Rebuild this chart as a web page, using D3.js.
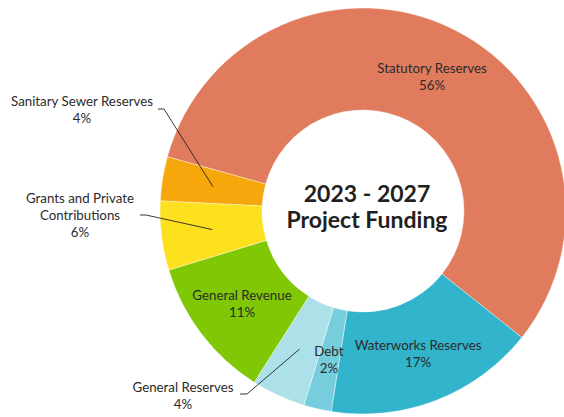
<!DOCTYPE html>
<html>
<head>
<meta charset="utf-8">
<script src="https://cdn.jsdelivr.net/npm/d3@7"></script>
<style>
  html, body { margin: 0; padding: 0; background: #fff; }
  svg { display: block; }
  text { font-family: Lato, "Open Sans", sans-serif; fill: #2b2b2b; }
</style>
</head>
<body>
<svg id="chart" width="564" height="417"></svg>
<script>
// ---- data ----
const categories = ["Statutory Reserves", "Waterworks Reserves", "Debt", "General Reserves",
                    "General Revenue", "Grants and Private Contributions", "Sanitary Sewer Reserves"];
const labelLines = [["Statutory Reserves"], ["Waterworks Reserves"], ["Debt"], ["General Reserves"],
                    ["General Revenue"], ["Grants and Private", "Contributions"], ["Sanitary Sewer Reserves"]];
const values = [56.4, 16.8, 2.2, 4.3, 11.3, 5.5, 3.5];
const colors = ["#E07B5D", "#32B4CC", "#76CEDD", "#ADE1EA", "#80C806", "#FDE01E", "#F6A70B"];
const titleLines = ["2023 - 2027", "Project Funding"];

// ---- layout ----
const cx = 363, cy = 211, rOuter = 203, rInner = 101, rLabel = 152;
const startDeg = -74.5;
// outside labels: elbow point and text anchor (center x, first baseline y)
const outside = {
  3: { elbow: [247, 394], end: [240, 394], text: [183, 392] },
  5: { elbow: [146, 215], end: [140, 215], text: [80, 203] },
  6: { elbow: [164, 109], end: [158, 109], text: [82, 106] }
};

const svg = d3.select("#chart");
const g = svg.append("g").attr("transform", `translate(${cx},${cy})`);

const pie = d3.pie().sort(null).value(d => d)
  .startAngle(startDeg * Math.PI / 180)
  .endAngle((startDeg + 360) * Math.PI / 180);
const arcs = pie(values);
const arc = d3.arc().innerRadius(rInner).outerRadius(rOuter);
const labelArc = d3.arc().innerRadius(rLabel).outerRadius(rLabel);

g.selectAll("path.slice").data(arcs).join("path")
  .attr("class", "slice")
  .attr("d", arc)
  .attr("fill", (d, i) => colors[i])
  .attr("stroke", "#fff").attr("stroke-width", 0.4);

const fs = 13.3, lh = 17;
arcs.forEach((d, i) => {
  const c = labelArc.centroid(d);
  const lines = labelLines[i].concat([Math.round(values[i]) + "%"]);
  if (outside[i]) {
    const o = outside[i];
    svg.append("polyline")
      .attr("points", [[o.end[0], o.end[1]], [o.elbow[0], o.elbow[1]], [cx + c[0], cy + c[1]]].join(" "))
      .attr("fill", "none").attr("stroke", "#222").attr("stroke-width", 0.9);
    const t = svg.append("text").attr("text-anchor", "middle").attr("font-size", fs);
    lines.forEach((l, k) => t.append("tspan").attr("x", o.text[0]).attr("y", o.text[1] + k * lh).text(l));
  } else {
    const t = g.append("text").attr("text-anchor", "middle").attr("font-size", fs);
    const y0 = c[1] - 3 - (lines.length - 2) * lh / 2;
    lines.forEach((l, k) => t.append("tspan").attr("x", c[0]).attr("y", y0 + k * lh).text(l));
  }
});

const title = g.append("text").attr("text-anchor", "middle")
  .attr("font-size", 23).attr("font-weight", "bold").style("fill", "#231F20");
titleLines.forEach((l, k) => title.append("tspan").attr("x", 4).attr("y", -9 + k * 26).text(l));
</script>
</body>
</html>
